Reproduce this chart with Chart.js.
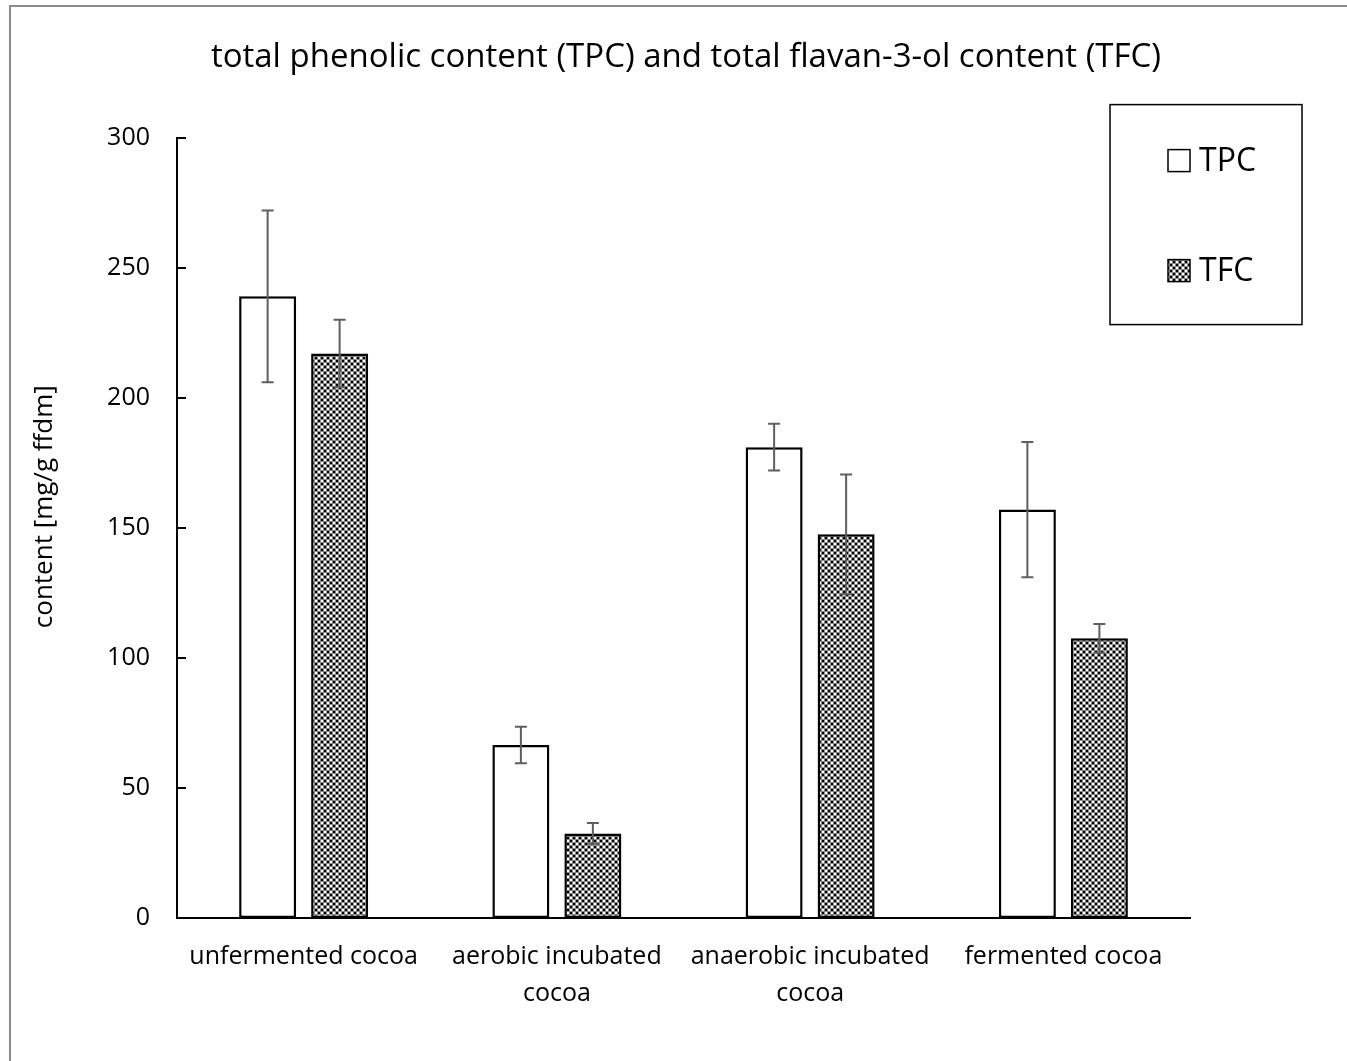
<!DOCTYPE html>
<html>
<head>
<meta charset="utf-8">
<title>TPC and TFC</title>
<script src="https://cdn.jsdelivr.net/npm/chart.js@4/dist/chart.umd.min.js"></script>
<style>
  html, body { margin: 0; padding: 0; background: #ffffff; }
  #wrap { width: 1347px; height: 1061px; }
</style>
</head>
<body>
<div id="wrap"><canvas id="c" width="1347" height="1061"></canvas></div>
<script>
// Sample groups
const categories = [
  'unfermented cocoa',
  ['aerobic incubated', 'cocoa'],
  ['anaerobic incubated', 'cocoa'],
  'fermented cocoa'
];
// Total phenolic content, mg/g ffdm
const tpcValues = [239, 66.5, 181, 157];
const tpcErrors = [33, 7, 9, 26];
// Total flavan-3-ol content, mg/g ffdm
const tfcValues = [217, 32.5, 147.5, 107.5];
const tfcErrors = [13, 4, 23, 5.5];
// Value axis
const yTicks = [0, 50, 100, 150, 200, 250, 300];
const yTitle = 'content [mg/g ffdm]';

const FONT = "'Open Sans', 'DejaVu Sans', sans-serif";

// Fine black/white checkerboard fill
function checkerPattern() {
  const t = document.createElement('canvas');
  t.width = 6; t.height = 6;
  const g = t.getContext('2d');
  g.fillStyle = '#ffffff';
  g.fillRect(0, 0, 6, 6);
  g.fillStyle = '#000000';
  g.fillRect(0, 0, 2, 2);
  g.fillRect(3, 3, 2, 2);
  g.fillStyle = '#8a8a8a';
  g.fillRect(2, 0, 1, 6);
  g.fillRect(5, 0, 1, 6);
  g.fillRect(0, 2, 6, 1);
  g.fillRect(0, 5, 6, 1);
  return g.createPattern(t, 'repeat');
}
const checker = checkerPattern();

// Outer frame around the figure
const framePlugin = {
  id: 'frame',
  beforeDraw(chart) {
    const ctx = chart.ctx;
    ctx.save();
    ctx.strokeStyle = '#8c8c8c';
    ctx.lineWidth = 2;
    ctx.beginPath();
    ctx.moveTo(10, chart.height + 2);
    ctx.lineTo(10, 6);
    ctx.lineTo(chart.width + 2, 6);
    ctx.stroke();
    ctx.restore();
  }
};

// Inward tick marks on the value axis and the rotated axis title
const valueAxisPlugin = {
  id: 'valueAxis',
  afterDraw(chart) {
    const y = chart.scales.y;
    const area = chart.chartArea;
    const ctx = chart.ctx;
    ctx.save();
    ctx.strokeStyle = '#000000';
    ctx.lineWidth = 2;
    y.ticks.forEach(t => {
      const py = Math.round(y.getPixelForValue(t.value));
      ctx.beginPath();
      ctx.moveTo(y.right, py);
      ctx.lineTo(y.right + 9, py);
      ctx.stroke();
    });
    ctx.translate(area.left - 132, area.top + (area.bottom - area.top) * 0.473);
    ctx.rotate(-Math.PI / 2);
    ctx.font = '26px ' + FONT;
    ctx.fillStyle = '#000000';
    ctx.textAlign = 'center';
    ctx.textBaseline = 'middle';
    ctx.fillText(yTitle, 0, 0);
    ctx.restore();
  }
};

// Standard deviation whiskers
const errorBarsPlugin = {
  id: 'errorBars',
  afterDatasetsDraw(chart) {
    const ctx = chart.ctx;
    const y = chart.scales.y;
    ctx.save();
    ctx.strokeStyle = '#5f5f5f';
    ctx.lineWidth = 2;
    chart.data.datasets.forEach((ds, di) => {
      const meta = chart.getDatasetMeta(di);
      meta.data.forEach((bar, i) => {
        const v = ds.data[i], e = ds.errors[i];
        const yTop = y.getPixelForValue(v + e);
        const yBot = y.getPixelForValue(v - e);
        const x = bar.x;
        ctx.beginPath();
        ctx.moveTo(x, yTop); ctx.lineTo(x, yBot);
        ctx.moveTo(x - 6, yTop); ctx.lineTo(x + 6, yTop);
        ctx.moveTo(x - 6, yBot); ctx.lineTo(x + 6, yBot);
        ctx.stroke();
      });
    });
    ctx.restore();
  }
};

// Boxed legend at the upper right
const boxLegendPlugin = {
  id: 'boxLegend',
  afterDraw(chart) {
    const ctx = chart.ctx;
    const area = chart.chartArea;
    const left = area.right - 80, top = area.top - 33;
    const w = 192, h = 220;
    ctx.save();
    ctx.strokeStyle = '#000000';
    ctx.lineWidth = 1.5;
    ctx.strokeRect(left, top, w, h);
    ctx.font = '32px ' + FONT;
    ctx.textBaseline = 'middle';
    ctx.textAlign = 'left';
    chart.data.datasets.forEach((ds, i) => {
      const cy = top + 56 + i * 110;
      const sx = left + 58;
      ctx.fillStyle = ds.backgroundColor;
      ctx.fillRect(sx, cy - 11, 22, 22);
      ctx.lineWidth = 1.5;
      ctx.strokeStyle = '#000000';
      ctx.strokeRect(sx, cy - 11, 22, 22);
      ctx.fillStyle = '#000000';
      ctx.fillText(ds.label, sx + 31, cy + 1);
    });
    ctx.restore();
  }
};

new Chart(document.getElementById('c'), {
  type: 'bar',
  data: {
    labels: categories,
    datasets: [
      {
        label: 'TPC',
        data: tpcValues,
        errors: tpcErrors,
        yAxisID: 'y',
        backgroundColor: '#ffffff',
        borderColor: '#000000',
        borderWidth: 2.5,
        borderSkipped: false
      },
      {
        label: 'TFC',
        data: tfcValues,
        errors: tfcErrors,
        yAxisID: 'y',
        backgroundColor: checker,
        borderColor: '#000000',
        borderWidth: 2.5,
        borderSkipped: false
      }
    ]
  },
  options: {
    responsive: false,
    animation: false,
    devicePixelRatio: 1,
    categoryPercentage: 0.5686,
    barPercentage: 0.7917,
    layout: { padding: { left: 25, right: 0, top: 0, bottom: 0 } },
    plugins: {
      legend: { display: false },
      tooltip: { enabled: false },
      title: {
        display: true,
        text: 'total phenolic content (TPC) and total flavan-3-ol content (TFC)',
        color: '#000000',
        font: { family: FONT, size: 33, weight: 'normal', lineHeight: 1.2 },
        padding: { top: 38, bottom: 60 }
      }
    },
    scales: {
      x: {
        grid: { display: false, drawTicks: false },
        border: { display: true, color: '#000000', width: 2 },
        ticks: {
          color: '#000000',
          font: { family: FONT, size: 25, lineHeight: 1.5 },
          padding: 20,
          maxRotation: 0,
          autoSkip: false
        },
        afterFit(scale) { scale.height = 143; }
      },
      y: {
        min: 0,
        max: 300,
        afterBuildTicks(scale) { scale.ticks = yTicks.map(v => ({ value: v })); },
        grid: { display: false, drawTicks: false },
        border: { display: true, color: '#000000', width: 2 },
        ticks: {
          color: '#000000',
          font: { family: FONT, size: 25 },
          padding: 27
        },
        afterFit(scale) { scale.width = 152; }
      },
      // empty margin on the right that holds the legend box
      side: {
        type: 'linear',
        position: 'right',
        display: true,
        grid: { display: false, drawTicks: false },
        border: { display: false },
        ticks: { display: false },
        afterFit(scale) { scale.width = 157; }
      }
    }
  },
  plugins: [framePlugin, errorBarsPlugin, valueAxisPlugin, boxLegendPlugin]
});
</script>
</body>
</html>
